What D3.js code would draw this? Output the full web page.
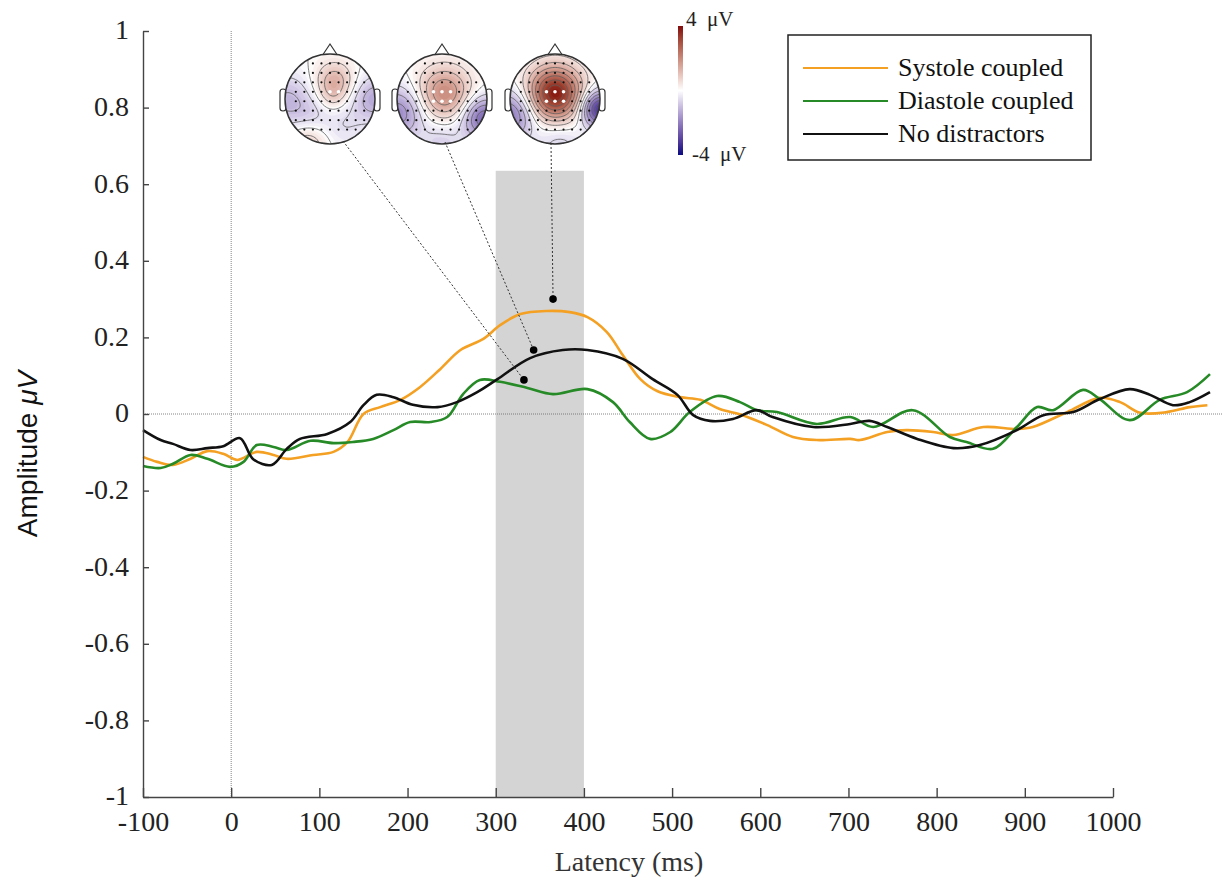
<!DOCTYPE html>
<html><head><meta charset="utf-8">
<script src="https://cdn.jsdelivr.net/npm/d3@7"></script>
<style>body{margin:0;background:#fff}svg{display:block}</style>
</head><body>
<svg id="chart" width="1222" height="882"></svg>
<script>
// ---------------- data ----------------
const latencyTicks = [-100,0,100,200,300,400,500,600,700,800,900,1000];
const amplitudeTicks = [-1,-0.8,-0.6,-0.4,-0.2,0,0.2,0.4,0.6,0.8,1];
const amplitudeTickLabels = ["-1","-0.8","-0.6","-0.4","-0.2","0","0.2","0.4","0.6","0.8","1"];
const seriesNames = ["Systole coupled","Diastole coupled","No distractors"];
const seriesColors = ["#f4a023","#268a26","#111111"];

const systoleMs  = [-100,-84,-66,-46,-27,-9,7,29,48,63,93,116,132,150,169,192,214,237,260,286,305,328,358,384,404,426,444,464,483,509,532,554,580,608,637,664,702,713,744,766,796,819,853,891,909,948,985,1008,1031,1061,1087,1107];
const systoleAmp = [-0.112,-0.125,-0.133,-0.117,-0.097,-0.104,-0.12,-0.099,-0.107,-0.117,-0.107,-0.099,-0.073,0.0,0.018,0.037,0.07,0.117,0.167,0.196,0.232,0.261,0.269,0.266,0.253,0.214,0.154,0.091,0.06,0.044,0.037,0.013,-0.003,-0.029,-0.06,-0.068,-0.065,-0.068,-0.047,-0.042,-0.047,-0.055,-0.034,-0.039,-0.034,0.005,0.042,0.031,0.003,0.005,0.018,0.023];

const diastoleMs  = [-100,-80,-66,-46,-27,-1,14,29,48,63,90,116,138,161,184,203,226,245,263,282,305,336,365,404,433,452,475,498,520,551,577,596,619,664,702,728,773,815,834,864,891,914,932,966,985,1019,1053,1084,1110];
const diastoleAmp = [-0.136,-0.141,-0.13,-0.107,-0.117,-0.138,-0.125,-0.081,-0.086,-0.094,-0.07,-0.076,-0.073,-0.065,-0.042,-0.021,-0.021,-0.008,0.052,0.089,0.084,0.068,0.052,0.065,0.031,-0.021,-0.065,-0.047,0.005,0.047,0.031,0.01,0.005,-0.026,-0.008,-0.034,0.01,-0.06,-0.073,-0.091,-0.034,0.018,0.01,0.063,0.039,-0.016,0.037,0.057,0.104];

const noDistractMs  = [-100,-80,-66,-46,-27,-9,10,25,46,63,78,109,135,150,165,184,206,234,256,279,302,339,376,404,444,478,506,524,543,569,596,614,660,702,724,744,778,819,849,891,921,955,985,1019,1042,1068,1087,1110];
const noDistractAmp = [-0.042,-0.068,-0.078,-0.094,-0.089,-0.084,-0.063,-0.118,-0.133,-0.091,-0.065,-0.052,-0.021,0.023,0.05,0.044,0.024,0.018,0.031,0.057,0.091,0.146,0.167,0.167,0.144,0.091,0.05,-0.003,-0.018,-0.013,0.01,-0.008,-0.034,-0.026,-0.018,-0.034,-0.065,-0.089,-0.081,-0.042,-0.003,0.005,0.039,0.065,0.05,0.023,0.031,0.057];

const windowMs = [300,400];
const windowTop = 0.635;

// topography peaks (marked points on curves)
const markerMs  = [332,343,365];
const markerAmp = [0.089,0.167,0.30];

// scalp map sources per map: [x, y, amplitude(µV), spread] in head units
const topoSources = [
  [[0.1,-0.4,1.3,0.3],[0.05,-0.05,0.5,0.22],[-0.95,0.05,-1.1,0.42],[1.0,0.0,-1.3,0.36],[-0.5,1.0,0.9,0.3],[0.3,0.6,-0.45,0.35],[-0.4,0.35,-0.35,0.28]],
  [[0.05,-0.12,2.0,0.42],[-0.95,0.3,-1.8,0.4],[0.92,0.42,-2.4,0.33],[0.0,0.95,-0.7,0.35]],
  [[0.0,-0.12,3.9,0.42],[-0.98,0.35,-2.1,0.38],[0.98,0.22,-3.4,0.28],[0.1,0.95,-0.7,0.35]]
];
const topoWhite = [[[0,0],[1,0]], [[-1,0],[0,0],[1,0],[-1,1],[0,1],[1,1]], [[-1,0],[0,0],[1,0],[-1,1],[0,1],[1,1]]];
const colorbarLabels = ["4  \u03bcV","-4  \u03bcV"];

// ---------------- layout ----------------
const svg = d3.select("#chart");
const serif = "'Liberation Serif','Times New Roman',serif";
const x = d3.scaleLinear().domain([-100,1000]).range([143,1113]);
const y = d3.scaleLinear().domain([-1,1]).range([797,31]);

// shaded window
svg.append("rect")
  .attr("x", x(windowMs[0])).attr("width", x(windowMs[1]) - x(windowMs[0]))
  .attr("y", y(windowTop)).attr("height", y(-1) - y(windowTop))
  .attr("fill", "#d4d4d4");

// zero lines
svg.append("line").attr("x1", x(-100)).attr("x2", 1222).attr("y1", y(0)).attr("y2", y(0))
  .attr("stroke", "#666").attr("stroke-width", 0.8).attr("stroke-dasharray", "1,1");
svg.append("line").attr("x1", x(0)).attr("x2", x(0)).attr("y1", y(1)).attr("y2", y(-1))
  .attr("stroke", "#666").attr("stroke-width", 0.8).attr("stroke-dasharray", "1,1");

// curves
const line = d3.line().x(d => x(d[0])).y(d => y(d[1])).curve(d3.curveCatmullRom.alpha(0.5));
const series = [
  d3.zip(systoleMs, systoleAmp),
  d3.zip(diastoleMs, diastoleAmp),
  d3.zip(noDistractMs, noDistractAmp)
];
series.forEach((s, i) => {
  svg.append("path").datum(s).attr("d", line).attr("fill", "none")
    .attr("stroke", seriesColors[i]).attr("stroke-width", 2.6).attr("stroke-linejoin", "round");
});

// axes
const yAxis = d3.axisLeft(y).tickValues(amplitudeTicks)
  .tickFormat((d, i) => amplitudeTickLabels[i]).tickSize(-6).tickSizeOuter(0).tickPadding(14);
const xAxis = d3.axisBottom(x).tickValues(latencyTicks).tickFormat(d => String(d))
  .tickSize(-9).tickSizeOuter(0).tickPadding(14);
const gy = svg.append("g").attr("transform", `translate(${x(-100)},0)`).call(yAxis);
const gx = svg.append("g").attr("transform", `translate(0,${y(-1)})`).call(xAxis);
[gx, gy].forEach(g => {
  g.selectAll("path,line").attr("stroke", "#444").attr("stroke-width", 1.4);
  g.selectAll("text").attr("font-family", serif).attr("font-size", 28).attr("fill", "#222");
});
gy.selectAll("text").attr("dy", "0.28em");

svg.append("text").attr("x", 629).attr("y", 871).attr("text-anchor", "middle")
  .attr("font-family", serif).attr("font-size", 28).attr("fill", "#333").text("Latency (ms)");

const yl = svg.append("text").attr("transform", "translate(37,454) rotate(-90)")
  .attr("text-anchor", "middle").attr("font-family", "'Liberation Sans',Arial,sans-serif")
  .attr("font-size", 28).attr("fill", "#111");
yl.append("tspan").text("Amplitude ");
yl.append("tspan").attr("font-style", "italic").text("\u03bcV");

// legend
svg.append("rect").attr("x", 788).attr("y", 35).attr("width", 303).attr("height", 125)
  .attr("fill", "#fff").attr("stroke", "#222").attr("stroke-width", 1.5);
seriesNames.forEach((nm, i) => {
  const ly = 68 + i * 33;
  svg.append("line").attr("x1", 803).attr("x2", 888).attr("y1", ly).attr("y2", ly)
    .attr("stroke", seriesColors[i]).attr("stroke-width", 2);
  svg.append("text").attr("x", 898).attr("y", ly + 8).attr("font-family", serif)
    .attr("font-size", 26).attr("fill", "#111").text(nm);
});

// ---------------- scalp maps ----------------
const topoColor = d3.scaleLinear().domain([-4, 0, 4]).range(["#0b0b80", "#ffffff", "#820b0b"])
  .interpolate(d3.interpolateLab).clamp(true);
const heads = [{cx: 330, cy: 99}, {cx: 442, cy: 99}, {cx: 555, cy: 99}];
const R = 45, N = 64, EXT = 1.08;
const defs = svg.append("defs");

heads.forEach((h, k) => {
  const vals = new Array(N * N);
  for (let j = 0; j < N; j++) for (let i = 0; i < N; i++) {
    const ux = -EXT + 2 * EXT * i / (N - 1), uy = -EXT + 2 * EXT * j / (N - 1);
    let v = 0;
    topoSources[k].forEach(([sx, sy, a, s]) => {
      v += a * Math.exp(-((ux - sx) ** 2 + (uy - sy) ** 2) / (2 * s * s));
    });
    vals[j * N + i] = v;
  }
  const proj = d3.geoTransform({
    point(px, py) {
      this.stream.point(h.cx + (-EXT + 2 * EXT * (px - 0.5) / (N - 1)) * R,
                        h.cy + (-EXT + 2 * EXT * (py - 0.5) / (N - 1)) * R);
    }
  });
  const path = d3.geoPath(proj);
  defs.append("clipPath").attr("id", "clip" + k).append("circle")
    .attr("cx", h.cx).attr("cy", h.cy).attr("r", R);
  const g = svg.append("g");
  [-1, 1].forEach(sd => {
    g.append("rect").attr("x", sd < 0 ? h.cx - R - 5 : h.cx + R - 1).attr("y", h.cy - 10)
      .attr("width", 6).attr("height", 22).attr("rx", 3)
      .attr("fill", "#fff").attr("stroke", "#333").attr("stroke-width", 1.2);
  });
  g.append("path").attr("d", `M${h.cx - 8},${h.cy - R + 2} L${h.cx},${h.cy - R - 10} L${h.cx + 8},${h.cy - R + 2}`)
    .attr("fill", "#fff").attr("stroke", "#333").attr("stroke-width", 1.2);
  const inner = g.append("g").attr("clip-path", `url(#clip${k})`);
  const fillTh = d3.range(-4.2, 4.2, 0.15);
  const cs = d3.contours().size([N, N]).thresholds(fillTh)(vals);
  inner.selectAll("path.f").data(cs).join("path").attr("class", "f")
    .attr("d", path).attr("fill", d => topoColor(d.value + 0.075)).attr("stroke", "none");
  const lineTh = d3.range(-3.5, 4, 0.5);
  const cl = d3.contours().size([N, N]).thresholds(lineTh)(vals);
  inner.selectAll("path.l").data(cl).join("path").attr("class", "l")
    .attr("d", path).attr("fill", "none").attr("stroke", "#5e5e5e").attr("stroke-width", 0.8);
  const white = topoWhite[k].map(d => d.join(","));
  for (let row = -4; row <= 4; row++) for (let col = -5; col <= 5; col++) {
    const ex = col * 0.19, ey = -0.16 + row * 0.21;
    if (ex * ex + ey * ey > 0.9 * 0.9) continue;
    const isW = white.includes(col + "," + row);
    inner.append("circle").attr("cx", h.cx + ex * R).attr("cy", h.cy + ey * R)
      .attr("r", isW ? 1.8 : 1.1).attr("fill", isW ? "#fff" : "#111");
  }
  g.append("circle").attr("cx", h.cx).attr("cy", h.cy).attr("r", R)
    .attr("fill", "none").attr("stroke", "#333").attr("stroke-width", 1.5);
});

// connectors
const anchors = [[13, 42], [3, 43], [-4, 44]];
markerMs.forEach((m, i) => {
  svg.append("line").attr("x1", heads[i].cx + anchors[i][0]).attr("y1", heads[i].cy + anchors[i][1])
    .attr("x2", x(m)).attr("y2", y(markerAmp[i]))
    .attr("stroke", "#333").attr("stroke-width", 1).attr("stroke-dasharray", "2,2");
  svg.append("circle").attr("cx", x(m)).attr("cy", y(markerAmp[i])).attr("r", 3.8).attr("fill", "#000");
});

// colorbar
const grad = defs.append("linearGradient").attr("id", "cbar").attr("x1", 0).attr("x2", 0).attr("y1", 0).attr("y2", 1);
d3.range(0, 1.001, 0.1).forEach(t => {
  grad.append("stop").attr("offset", t).attr("stop-color", topoColor(4 - 8 * t));
});
svg.append("rect").attr("x", 678).attr("y", 26).attr("width", 5).attr("height", 129).attr("fill", "url(#cbar)");
svg.append("text").attr("x", 686).attr("y", 26).attr("font-family", serif).attr("font-size", 21)
  .attr("fill", "#222").attr("xml:space", "preserve").text(colorbarLabels[0]);
svg.append("text").attr("x", 692).attr("y", 161).attr("font-family", serif).attr("font-size", 21)
  .attr("fill", "#222").attr("xml:space", "preserve").text(colorbarLabels[1]);
</script>
</body></html>
